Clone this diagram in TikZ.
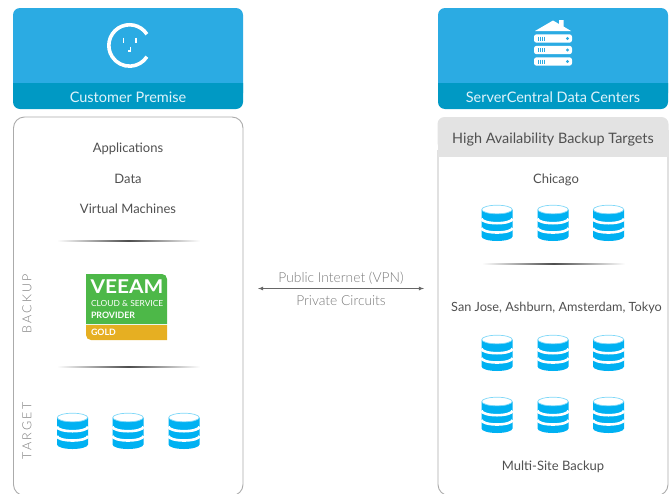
\documentclass[tikz,border=0pt]{standalone}
\usepackage{fontspec}
\setmainfont{Lato}
\newfontfamily\lightfont{Lato Light}
\newfontfamily\spacedfont[LetterSpace=18]{Lato Light}
\usepackage{tikz}

\definecolor{headblue}{HTML}{2BABE3}
\definecolor{bandblue}{HTML}{0099C4}
\definecolor{diskblue}{HTML}{00B1F2}
\definecolor{diskrim}{HTML}{7FD8F8}
\definecolor{panelgray}{HTML}{ABABAB}
\definecolor{targetgray}{HTML}{E3E3E3}
\definecolor{textgray}{HTML}{505050}
\definecolor{lightgray}{HTML}{7A7A7A}
\definecolor{veeamgreen}{HTML}{4DB848}
\definecolor{veeamgold}{HTML}{E6AF22}

\tikzset{
  disk/.pic={
    \fill[diskblue] (-15.5,13.5) -- (-15.5,-13.5) arc[start angle=180,end angle=360,x radius=15.5pt,y radius=4.5pt] -- (15.5,13.5) -- cycle;
    \foreach \h in {4.3,-5} {
      \draw[white,line width=2.6pt] (-15.5,\h) arc[start angle=180,end angle=360,x radius=15.5pt,y radius=4.5pt];
    }
    \draw[diskrim,fill=white,line width=0.7pt] (0,13.5) ellipse[x radius=15.2pt,y radius=4.3pt];
  },
  rack/.pic={
    \fill[white,rounded corners=2.5pt] (-19,4.2) rectangle (19,-4.2);
    \foreach \t in {-15,-13,-11,-9} {
      \draw[headblue,line width=0.8pt] (\t,2) -- (\t,-2);
    }
    \fill[headblue] (14.5,0) circle (1.7);
  }
}

\begin{document}
\begin{tikzpicture}[
  x=1pt,y=1pt,
  panel/.style={draw=panelgray,line width=0.9pt,rounded corners=11pt},
  heading/.style={anchor=base,text=white!85!headblue,font=\fontsize{14.5}{16}\selectfont},
  item/.style={anchor=base,text=textgray,font=\fontsize{13}{15}\selectfont},
  side label/.style={text=lightgray,rotate=90,font=\fontsize{12.5}{15}\selectfont\spacedfont},
  link label/.style={anchor=base,text=lightgray,font=\fontsize{13.8}{15}\selectfont\lightfont},
  badge text/.style={text=white,anchor=west,font=\fontsize{8.4}{10}\selectfont},
  divider/.style={left color=white,right color=white,middle color=black!70},
  ]
  \useasboundingbox (0,-493) rectangle (672,0);

  % headers
  \fill[headblue,rounded corners=7pt] (13,-8) rectangle (243,-100);
  \fill[headblue,rounded corners=7pt] (438,-8) rectangle (668,-100);
  \fill[bandblue] (13,-83) [rounded corners=7pt] -- (13,-109) -- (243,-109) [sharp corners] -- (243,-83) -- cycle;
  \fill[bandblue] (438,-83) [rounded corners=7pt] -- (438,-109) -- (668,-109) [sharp corners] -- (668,-83) -- cycle;
  \node[heading] (customer) at (128,-102) {Customer Premise};
  \node[heading] (servercentral) at (553,-102) {ServerCentral Data Centers};

  % plug
  \draw[white,line width=3.6pt] (146.9,-34.2) arc[start angle=33,end angle=327,radius=20.7pt];
  \draw[white,line width=1.3pt] (123.7,-37.5) -- (123.7,-42.5);
  \draw[white,line width=1.3pt] (136,-37.5) -- (136,-42.5);
  \draw[white,line width=1.1pt] (130.5,-46.5) -- (130.5,-51) -- (128,-51);

  % house and racks
  \fill[white] (535,-31) -- (553,-20.5) -- (559,-24) -- (559,-20) -- (563.5,-20) -- (563.5,-26.5) -- (571,-31) -- cycle;
  \foreach \y in {-38.5,-50,-61.5} {
    \pic at (553,\y) {rack};
  }

  % panels, cut off by the lower edge
  \draw[panel] (13.5,-117) rectangle (243,-495.5);
  \draw[panel] (438,-150) -- (438,-495.5) -- (668,-495.5) -- (668,-150);
  \fill[targetgray,rounded corners=7pt] (437.5,-117) rectangle (668.5,-150);
  \fill[targetgray] (437.5,-130) rectangle (668.5,-157);
  \node[item,font=\fontsize{14.4}{16}\selectfont] (targets) at (553,-143) {High Availability Backup Targets};

  % customer side
  \node[item] (apps) at (128,-152) {Applications};
  \node[item] (data) at (128,-183) {Data};
  \node[item] (vms) at (128,-213) {Virtual Machines};
  \shade[divider] (57,-240.7) rectangle (200,-241.8);
  \shade[divider] (57,-366.7) rectangle (200,-367.8);
  \node[side label] (backup) at (27,-304) {BACKUP};
  \node[side label] (target) at (27,-431) {TARGET};

  % veeam badge
  \fill[veeamgreen] (86,-324) -- (86,-274) -- (162,-274) arc[start angle=90,end angle=0,radius=5pt] -- (167,-324) -- cycle;
  \fill[veeamgold] (167,-325) -- (167,-340) -- (91,-340) arc[start angle=270,end angle=180,radius=5pt] -- (86,-325) -- cycle;
  \node[text=white,xscale=1.1,font=\fontsize{19}{20}\selectfont\bfseries] (veeam) at (127,-286.5) {VEEAM};
  \node[badge text] (cloud) at (87.5,-303.5) {CLOUD \& SERVICE};
  \node[badge text,font=\fontsize{8.8}{10}\selectfont\bfseries] (provider) at (87.5,-315) {PROVIDER};
  \node[badge text,font=\fontsize{8.8}{10}\selectfont\bfseries] (gold) at (87.5,-332.5) {GOLD};

  \foreach \x in {72.5,128,184} {
    \pic at (\x,-431) {disk};
  }

  % link
  \coordinate (linkL) at (258,-288.5);
  \coordinate (linkR) at (424,-288.5);
  \draw[<->,>=latex,draw=black!60,line width=0.8pt] (linkL) -- (linkR);
  \node[link label] (public) at (341,-282) {Public Internet (VPN)};
  \node[link label] (private) at (341,-305) {Private Circuits};

  % data center side
  \node[item] (chicago) at (556,-183) {Chicago};
  \foreach \x in {497,553,608.5} {
    \pic at (\x,-223) {disk};
    \pic at (\x,-353) {disk};
    \pic at (\x,-415) {disk};
  }
  \shade[divider] (482,-263.7) rectangle (625,-264.8);
  \node[item,font=\fontsize{12.7}{15}\selectfont] (sites) at (556.5,-311) {San Jose, Ashburn, Amsterdam, Tokyo};
  \node[item] (multisite) at (553,-470.5) {Multi-Site Backup};
\end{tikzpicture}
\end{document}
